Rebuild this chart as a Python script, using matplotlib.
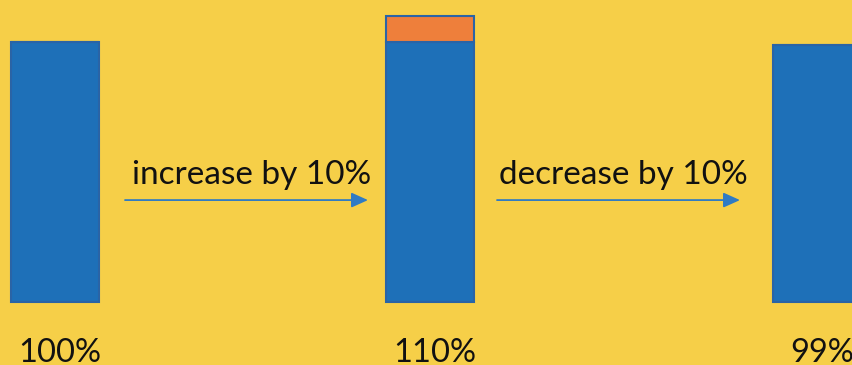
import matplotlib.pyplot as plt

# values
labels = ['100%', '110%', '99%']
base_values = [100, 100, 99]
extra_values = [0, 10, 0]
steps = ['increase by 10%', 'decrease by 10%']

# layout (x in pixels across the figure)
bar_x = [55, 430, 817]
bar_w = 88
arrow_x = [(125, 368), (497, 740)]

bg = '#F6CF48'
blue = '#1E70B8'
orange = '#EE7F3B'
edge = '#2A64A6'

fig = plt.figure(figsize=(8.52, 3.65), dpi=100, facecolor=bg)
ax = fig.add_axes([0, 0, 1, 1])
ax.set_facecolor(bg)

# 1% = 2.6 px, baseline at 302 px from the top
ax.set_xlim(0, 852)
ax.set_ylim(-63 / 2.6, 302 / 2.6)
ax.axis('off')

ax.bar(bar_x, base_values, width=bar_w, color=blue, edgecolor=edge, linewidth=1.5)
ax.bar(bar_x, extra_values, bottom=base_values, width=bar_w, color=orange,
       edgecolor=edge, linewidth=1.5)

font = 'Lato'
for x, lab in zip(bar_x, labels):
    ax.text(x + 5, -23.0, lab, ha='center', va='baseline', fontsize=23.5,
            family=font, color='#111111')

for (x0, x1), txt in zip(arrow_x, steps):
    ax.annotate('', xy=(x1, 39.2), xytext=(x0, 39.2),
                arrowprops=dict(arrowstyle='-|>,head_length=1.0,head_width=0.45',
                                color='#2F7BC4', lw=1.3, shrinkA=0, shrinkB=0))
    ax.text((x0 + x1) / 2 + 5, 45.5, txt, ha='center', va='baseline',
            fontsize=24, family=font, color='#111111')

fig.savefig('out.png', dpi=100, facecolor=bg)
